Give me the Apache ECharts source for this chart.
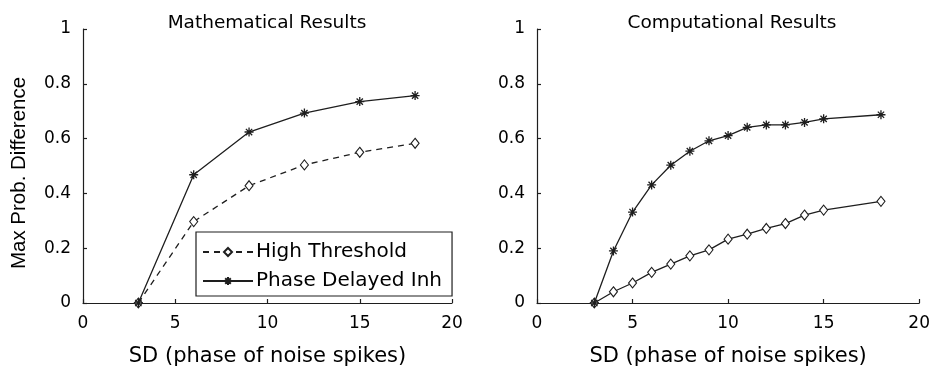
<!DOCTYPE html>
<html>
<head>
<meta charset="utf-8">
<script src="https://cdn.jsdelivr.net/npm/echarts@6/dist/echarts.min.js"></script>
<style>
html,body{margin:0;padding:0;background:#fff;}
#c{width:933px;height:372px;}
</style>
</head>
<body>
<div id="c"></div>
<script>
// ---- data ----
var titles = ['Mathematical Results', 'Computational Results'];
var xLabel = 'SD (phase of noise spikes)';
var yLabel = 'Max Prob. Difference';
var seriesNames = ['High Threshold', 'Phase Delayed Inh'];

var mathX = [3, 6, 9, 12, 15, 18];
var mathHigh = [0, 0.297, 0.428, 0.504, 0.550, 0.583];
var mathPhase = [0, 0.468, 0.624, 0.693, 0.735, 0.757];

var compX = [3, 4, 5, 6, 7, 8, 9, 10, 11, 12, 13, 14, 15, 18];
var compHigh = [0, 0.041, 0.073, 0.112, 0.142, 0.172, 0.194, 0.233, 0.251, 0.272, 0.290, 0.321, 0.339, 0.371];
var compPhase = [0, 0.19, 0.332, 0.431, 0.503, 0.554, 0.592, 0.611, 0.641, 0.650, 0.650, 0.659, 0.672, 0.687];

var xTicks = [0, 5, 10, 15, 20];
var yTicks = [0, 0.2, 0.4, 0.6, 0.8, 1];

function pairs(xs, ys) { return xs.map(function (x, i) { return [x, ys[i]]; }); }

var INK = '#1e1e1e';
var TXT = '#000';
var FONT = 'DejaVu Sans';
var starPath = 'path://M5,0L5,10M0,5L10,5M1.5,1.5L8.5,8.5M1.5,8.5L8.5,1.5';

function xAxis(idx, withName) {
  return {
    type: 'value', gridIndex: idx, min: 0, max: 20, interval: 5,
    name: withName, nameLocation: 'middle', nameGap: 43,
    nameTextStyle: { fontFamily: FONT, fontSize: 21, color: TXT },
    axisLine: { show: true, lineStyle: { color: INK, width: 1.2 } },
    axisTick: { show: true, inside: true, length: 4, lineStyle: { color: INK, width: 1.2 } },
    axisLabel: { margin: 12, fontFamily: FONT, fontSize: 17, color: TXT,
      formatter: function (v) { return xTicks.indexOf(v) >= 0 ? String(v) : ''; } },
    splitLine: { show: false }
  };
}
function yAxis(idx) {
  return {
    type: 'value', gridIndex: idx, min: 0, max: 1, interval: 0.2,
    axisLine: { show: true, lineStyle: { color: INK, width: 1.2 } },
    axisTick: { show: true, inside: true, length: 4, lineStyle: { color: INK, width: 1.2 } },
    axisLabel: { margin: 12, fontFamily: FONT, fontSize: 17, color: TXT,
      formatter: function (v) {
        var r = Math.round(v * 10) / 10;
        return yTicks.indexOf(r) >= 0 ? String(r) : '';
      } },
    splitLine: { show: false }
  };
}

function highSeries(idx, data, dashed) {
  return {
    name: seriesNames[0], type: 'line', xAxisIndex: idx, yAxisIndex: idx,
    data: data, symbol: 'diamond', symbolSize: [8, 10], showSymbol: true,
    lineStyle: { color: INK, width: 1.3, type: dashed ? [6, 5] : 'solid' },
    itemStyle: { color: '#fff', borderColor: INK, borderWidth: 1.1 },
    animation: false, z: 3
  };
}
function phaseSeries(idx, data) {
  return {
    name: seriesNames[1], type: 'line', xAxisIndex: idx, yAxisIndex: idx,
    data: data, symbol: starPath, symbolSize: 9, showSymbol: true,
    lineStyle: { color: INK, width: 1.3 },
    itemStyle: { color: INK, borderColor: INK, borderWidth: 1.3 },
    animation: false, z: 4
  };
}

var chart = echarts.init(document.getElementById('c'), null, { renderer: 'canvas' });
chart.setOption({
  backgroundColor: '#fff',
  animation: false,
  title: [
    { text: titles[0], left: 262, top: 9, textAlign: 'center',
      textStyle: { fontFamily: FONT, fontSize: 18.5, fontWeight: 'normal', color: TXT } },
    { text: titles[1], left: 727, top: 9, textAlign: 'center',
      textStyle: { fontFamily: FONT, fontSize: 18.5, fontWeight: 'normal', color: TXT } }
  ],
  graphic: [
    { type: 'text', x: 19, y: 173, rotation: Math.PI / 2, silent: true,
      style: { text: yLabel, fontFamily: 'Liberation Sans', fontSize: 20.5, fill: TXT,
        align: 'center', verticalAlign: 'middle' } }
  ],
  grid: [
    { left: 83, width: 369, top: 29, height: 276 },
    { left: 537, width: 384, top: 29, height: 275 }
  ],
  xAxis: [xAxis(0, xLabel), xAxis(1, xLabel)],
  yAxis: [yAxis(0), yAxis(1)],
  legend: {
    data: seriesNames, orient: 'vertical', left: 196, top: 232,
    backgroundColor: '#fff', borderColor: INK, borderWidth: 1.2,
    padding: [9, 10, 4, 6], itemGap: 7, itemWidth: 50, itemHeight: 10,
    textStyle: { fontFamily: FONT, fontSize: 20, color: TXT, lineHeight: 22, padding: [0, 0, 0, -2] },
    selectedMode: false
  },
  series: [
    highSeries(0, pairs(mathX, mathHigh), true),
    phaseSeries(0, pairs(mathX, mathPhase)),
    highSeries(1, pairs(compX, compHigh), false),
    phaseSeries(1, pairs(compX, compPhase))
  ]
});
</script>
</body>
</html>
